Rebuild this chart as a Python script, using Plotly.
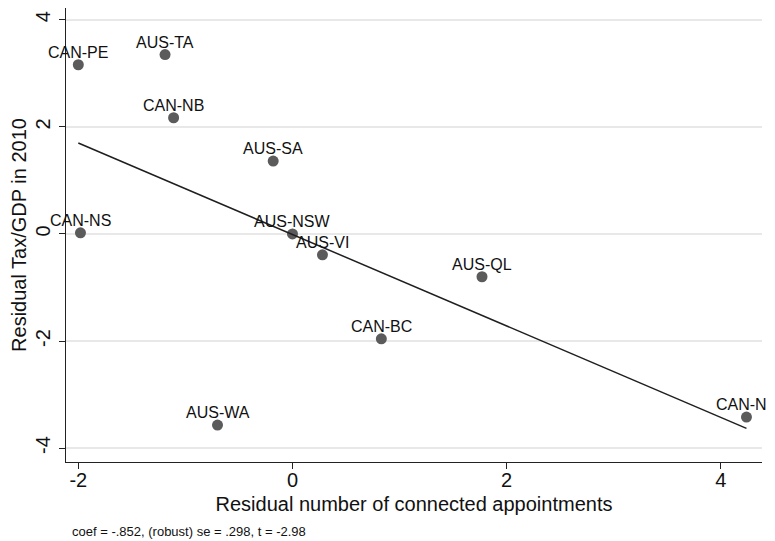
import numpy as np
import plotly.graph_objects as go

labels = ["CAN-PE", "AUS-TA", "CAN-NB", "AUS-SA", "CAN-NS", "AUS-NSW",
          "AUS-VI", "AUS-QL", "CAN-BC", "AUS-WA", "CAN-NF"]
x_resid = [-2.00, -1.19, -1.11, -0.18, -1.98, 0.00, 0.28, 1.77, 0.83, -0.70, 4.24]
y_resid = [3.16, 3.35, 2.17, 1.36, 0.02, 0.00, -0.39, -0.80, -1.96, -3.57, -3.42]
x_ticks = [-2, 0, 2, 4]
y_ticks = [-4, -2, 0, 2, 4]
note = "coef = -.852, (robust) se = .298, t = -2.98"

slope, intercept = np.polyfit(x_resid, y_resid, 1)
xf = np.array([min(x_resid), max(x_resid)])
yf = intercept + slope * xf

FONT = "Liberation Sans, Arial, sans-serif"

fig = go.Figure()
fig.add_trace(go.Scatter(
    x=x_resid, y=y_resid, mode="markers",
    marker=dict(size=11, color="#5b5b5b"),
    cliponaxis=False, showlegend=False, hoverinfo="skip"))
fig.add_trace(go.Scatter(
    x=xf, y=yf, mode="lines", line=dict(color="#1f1f1f", width=1.5),
    showlegend=False, hoverinfo="skip"))

annots = [dict(x=xv, y=yv, xref="x", yref="y", text=lab, showarrow=False,
               xanchor="center", yanchor="bottom", yshift=2,
               font=dict(family=FONT, size=16, color="#111111"))
          for xv, yv, lab in zip(x_resid, y_resid, labels)]
annots.append(dict(text=note, xref="paper", yref="paper", x=0.006, y=-0.152,
                   xanchor="left", yanchor="middle", showarrow=False,
                   font=dict(size=13, family=FONT, color="#111111")))

fig.update_layout(
    width=767, height=533,
    margin=dict(l=58, r=13, t=0, b=79),
    paper_bgcolor="white", plot_bgcolor="white",
    font=dict(family=FONT, color="#111111"),
    xaxis=dict(range=[-2.115, 4.385], tickvals=x_ticks, ticktext=[str(v) for v in x_ticks],
               showgrid=False, zeroline=False, showline=True, linecolor="#222222",
               linewidth=1.2, ticks="outside", ticklen=6, tickcolor="#222222",
               tickfont=dict(size=20), automargin=False, ticklabelstandoff=-6,
               title=dict(text="Residual number of connected appointments",
                          font=dict(size=20), standoff=6)),
    yaxis=dict(range=[-4.26, 4.22], tickvals=y_ticks, ticktext=[str(v) for v in y_ticks],
               showgrid=True, gridcolor="#e8e8e8", gridwidth=1.5,
               zeroline=False, showline=True, linecolor="#222222",
               linewidth=1.2, ticks="outside", ticklen=6, tickcolor="#222222",
               tickangle=-90, tickfont=dict(size=20), automargin=False,
               ticklabelstandoff=1,
               title=dict(text="Residual Tax/GDP in 2010",
                          font=dict(size=20), standoff=0)),
    annotations=annots,
)

fig.write_html("out.html")
